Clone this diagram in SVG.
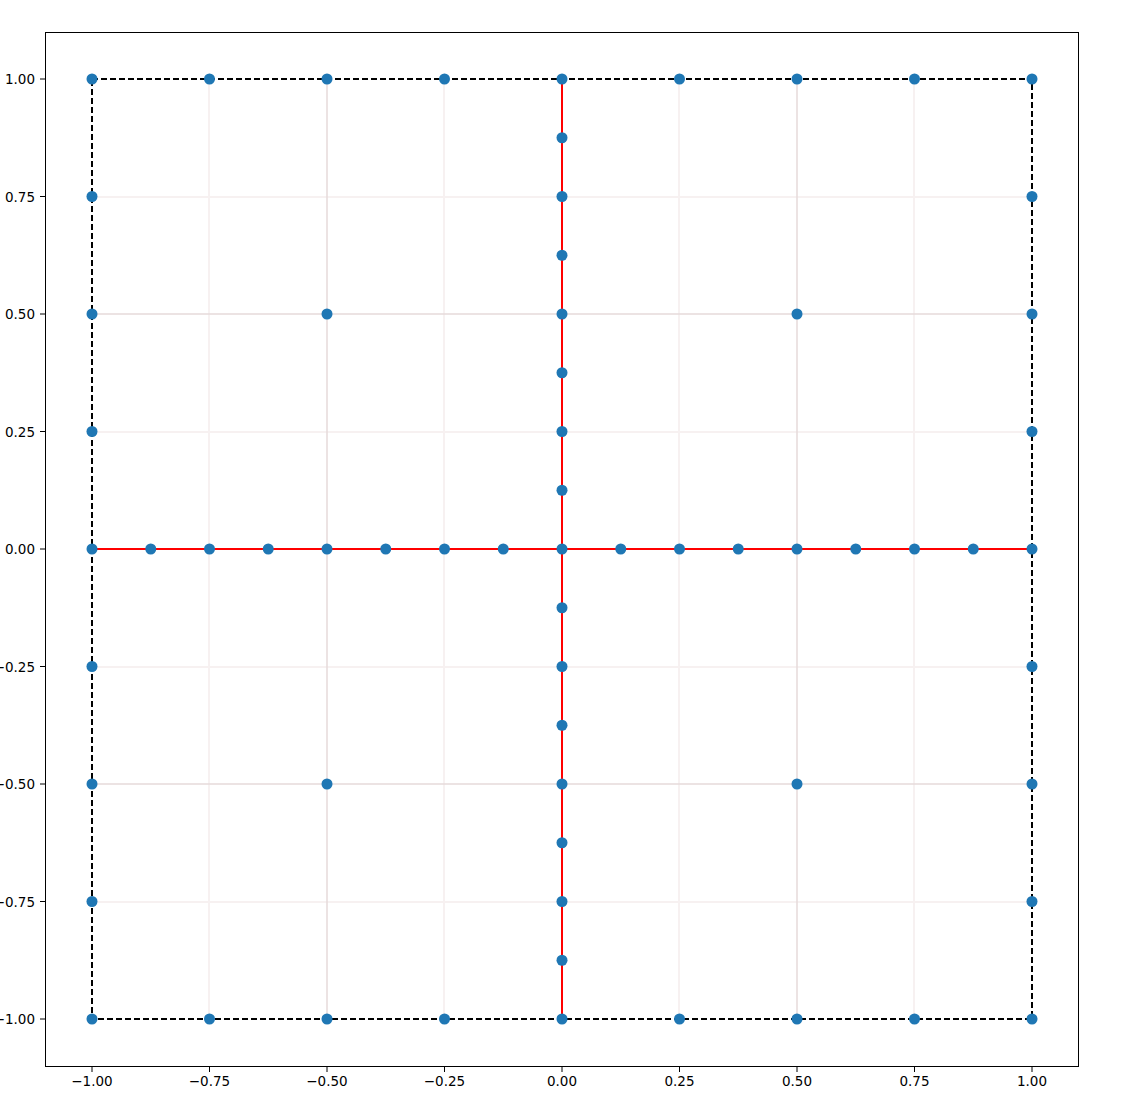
<svg xmlns="http://www.w3.org/2000/svg" xmlns:xlink="http://www.w3.org/1999/xlink" width="1125" height="1099" viewBox="0 0 1125 1099">
<style>
.tl{font-family:"DejaVu Sans",sans-serif;font-size:13.5px;fill:#000}
.tk{stroke:#000;stroke-width:1}
.g1{stroke:#e6dada;stroke-width:1.5;fill:none}
.g2{stroke:#f7f1f1;stroke-width:2;fill:none}
.red{stroke:#ff0000;stroke-width:2;fill:none}
.bd{stroke:#000;stroke-width:2;stroke-dasharray:6,3;fill:none}
</style>
<defs><circle id="m" r="5.5" fill="#1f77b4"/></defs>
<rect width="1125" height="1099" fill="#fff"/>
<g id="faint">
<path class="g2" d="M209,79V1019M444,79V1019M679,79V1019M914,79V1019M92,197H1032M92,432H1032M92,667H1032M92,902H1032"/>
<path class="g1" d="M327,79V1019M797,79V1019M92,314H1032M92,784H1032"/>
</g>
<g id="connectors">
<path class="red" d="M562,79V1019M92,549H1032"/>
<rect class="bd" x="92" y="79" width="940" height="940"/>
</g>
<g id="points">
<use href="#m" x="92" y="79"/><use href="#m" x="209.5" y="79"/><use href="#m" x="327" y="79"/><use href="#m" x="444.5" y="79"/><use href="#m" x="562" y="79"/><use href="#m" x="679.5" y="79"/><use href="#m" x="797" y="79"/><use href="#m" x="914.5" y="79"/><use href="#m" x="1032" y="79"/>
<use href="#m" x="92" y="1019"/><use href="#m" x="209.5" y="1019"/><use href="#m" x="327" y="1019"/><use href="#m" x="444.5" y="1019"/><use href="#m" x="562" y="1019"/><use href="#m" x="679.5" y="1019"/><use href="#m" x="797" y="1019"/><use href="#m" x="914.5" y="1019"/><use href="#m" x="1032" y="1019"/>
<use href="#m" x="92" y="196.5"/><use href="#m" x="92" y="314"/><use href="#m" x="92" y="431.5"/><use href="#m" x="92" y="549"/><use href="#m" x="92" y="666.5"/><use href="#m" x="92" y="784"/><use href="#m" x="92" y="901.5"/>
<use href="#m" x="1032" y="196.5"/><use href="#m" x="1032" y="314"/><use href="#m" x="1032" y="431.5"/><use href="#m" x="1032" y="549"/><use href="#m" x="1032" y="666.5"/><use href="#m" x="1032" y="784"/><use href="#m" x="1032" y="901.5"/>
<use href="#m" x="562" y="137.75"/><use href="#m" x="562" y="196.5"/><use href="#m" x="562" y="255.25"/><use href="#m" x="562" y="314"/><use href="#m" x="562" y="372.75"/><use href="#m" x="562" y="431.5"/><use href="#m" x="562" y="490.25"/><use href="#m" x="562" y="549"/><use href="#m" x="562" y="607.75"/><use href="#m" x="562" y="666.5"/><use href="#m" x="562" y="725.25"/><use href="#m" x="562" y="784"/><use href="#m" x="562" y="842.75"/><use href="#m" x="562" y="901.5"/><use href="#m" x="562" y="960.25"/>
<use href="#m" x="150.75" y="549"/><use href="#m" x="209.5" y="549"/><use href="#m" x="268.25" y="549"/><use href="#m" x="327" y="549"/><use href="#m" x="385.75" y="549"/><use href="#m" x="444.5" y="549"/><use href="#m" x="503.25" y="549"/><use href="#m" x="620.75" y="549"/><use href="#m" x="679.5" y="549"/><use href="#m" x="738.25" y="549"/><use href="#m" x="797" y="549"/><use href="#m" x="855.75" y="549"/><use href="#m" x="914.5" y="549"/><use href="#m" x="973.25" y="549"/>
<use href="#m" x="327" y="314"/><use href="#m" x="797" y="314"/><use href="#m" x="327" y="784"/><use href="#m" x="797" y="784"/>
</g>
<g id="axes">
<rect x="45.5" y="32.5" width="1033" height="1034" fill="none" stroke="#000" stroke-width="1"/>
<path class="tk" d="M92,1067v5M209.5,1067v5M327,1067v5M444.5,1067v5M562,1067v5M679.5,1067v5M797,1067v5M914.5,1067v5M1032,1067v5M40,79h5M40,196.5h5M40,314h5M40,431.5h5M40,549h5M40,666.5h5M40,784h5M40,901.5h5M40,1019h5"/>
<g class="tl" text-anchor="middle">
<text x="92" y="1086">−1.00</text><text x="209.5" y="1086">−0.75</text><text x="327" y="1086">−0.50</text><text x="444.5" y="1086">−0.25</text><text x="562" y="1086">0.00</text><text x="679.5" y="1086">0.25</text><text x="797" y="1086">0.50</text><text x="914.5" y="1086">0.75</text><text x="1032" y="1086">1.00</text>
</g>
<g class="tl" text-anchor="end">
<text x="35" y="84">1.00</text><text x="35" y="201.5">0.75</text><text x="35" y="319">0.50</text><text x="35" y="436.5">0.25</text><text x="35" y="554">0.00</text><text x="35" y="671.5">−0.25</text><text x="35" y="789">−0.50</text><text x="35" y="906.5">−0.75</text><text x="35" y="1024">−1.00</text>
</g>
</g>
</svg>
